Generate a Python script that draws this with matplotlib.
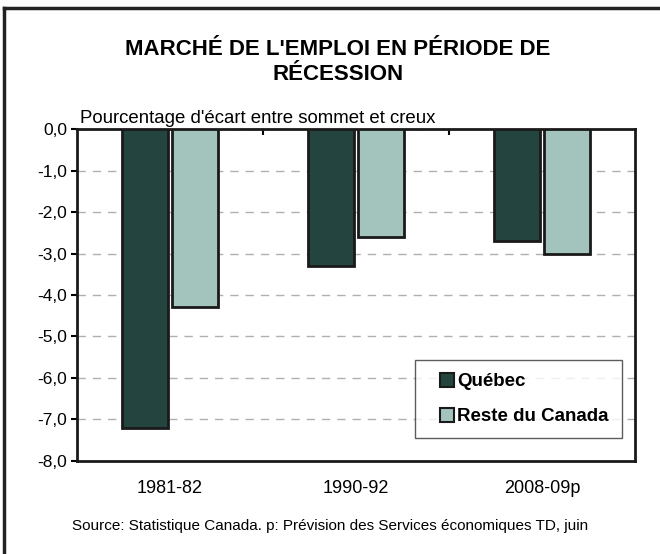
import matplotlib
matplotlib.use("Agg")
import matplotlib.pyplot as plt
from matplotlib.lines import Line2D
import numpy as np

plt.rcParams['font.family'] = ['Liberation Sans', 'DejaVu Sans']

periods = ['1981-82', '1990-92', '2008-09p']
quebec = [-7.2, -3.3, -2.7]
reste_canada = [-4.3, -2.6, -3.0]
yticks = [0, -1, -2, -3, -4, -5, -6, -7, -8]

col_qc = '#23443f'
col_rc = '#a2c4bd'

fig = plt.figure(figsize=(6.6, 5.54), dpi=100)
ax = fig.add_axes([0.1167, 0.1679, 0.8455, 0.5992])

x = np.arange(len(periods))
w = 0.245
gap = 0.013
ax.bar(x - w / 2 - gap, quebec, w, color=col_qc, edgecolor='#1a1a1a', linewidth=2, label='Québec', zorder=3)
ax.bar(x + w / 2 + gap, reste_canada, w, color=col_rc, edgecolor='#1a1a1a', linewidth=2, label='Reste du Canada', zorder=3)

ax.set_xlim(-0.5, 2.5)
ax.set_ylim(-8, 0)
ax.set_yticks(yticks)
ax.set_yticklabels([f'{v:.1f}'.replace('.', ',') for v in yticks], fontsize=12.5)
ax.yaxis.grid(True, linestyle=(0, (6, 5)), color='#b0b0b0', linewidth=1)
ax.set_axisbelow(True)
ax.tick_params(axis='y', length=4, width=1.5, pad=3)

# x labels at bottom, category ticks at the zero line (top)
ax.set_xticks([0.5, 1.5])
ax.set_xticklabels([])
ax.tick_params(axis='x', direction='in', length=4, width=1.5, bottom=False, top=True)
for i, p in enumerate(periods):
    ax.text(i, -8.45, p, ha='center', va='top', fontsize=13)

for s in ax.spines.values():
    s.set_linewidth(2)
    s.set_color('#1a1a1a')

ax.text(0.006, 1.006, "Pourcentage d'écart entre sommet et creux", transform=ax.transAxes,
        ha='left', va='bottom', fontsize=13.4)

handles = [Line2D([], [], marker='s', linestyle='none', markersize=10, markerfacecolor=c,
                  markeredgecolor='#1a1a1a', markeredgewidth=1.5) for c in (col_qc, col_rc)]
leg = ax.legend(handles, ['Québec', 'Reste du Canada'], loc='lower right',
                bbox_to_anchor=(0.976, 0.068), prop={'weight': 'bold', 'size': 13.5},
                frameon=True, fancybox=False, edgecolor='#333333', labelspacing=0.95,
                handletextpad=-0.45, borderpad=0.7, borderaxespad=0, handlelength=2.0)
leg.get_frame().set_linewidth(1)

fig.text(0.512, 0.888, "MARCHÉ DE L'EMPLOI EN PÉRIODE DE\nRÉCESSION", ha='center', va='center',
         fontsize=16, fontweight='bold', linespacing=1.3)
fig.text(0.5, 0.05, "Source: Statistique Canada. p: Prévision des Services économiques TD, juin",
         ha='center', va='center', fontsize=11)

# outer frame: top and left only
fig.add_artist(Line2D([0.006, 1.0], [0.985, 0.985], transform=fig.transFigure, color='#222222', linewidth=2.5))
fig.add_artist(Line2D([0.006, 0.006], [0.0, 0.985], transform=fig.transFigure, color='#222222', linewidth=2.5))

fig.savefig('out.png', dpi=100)
